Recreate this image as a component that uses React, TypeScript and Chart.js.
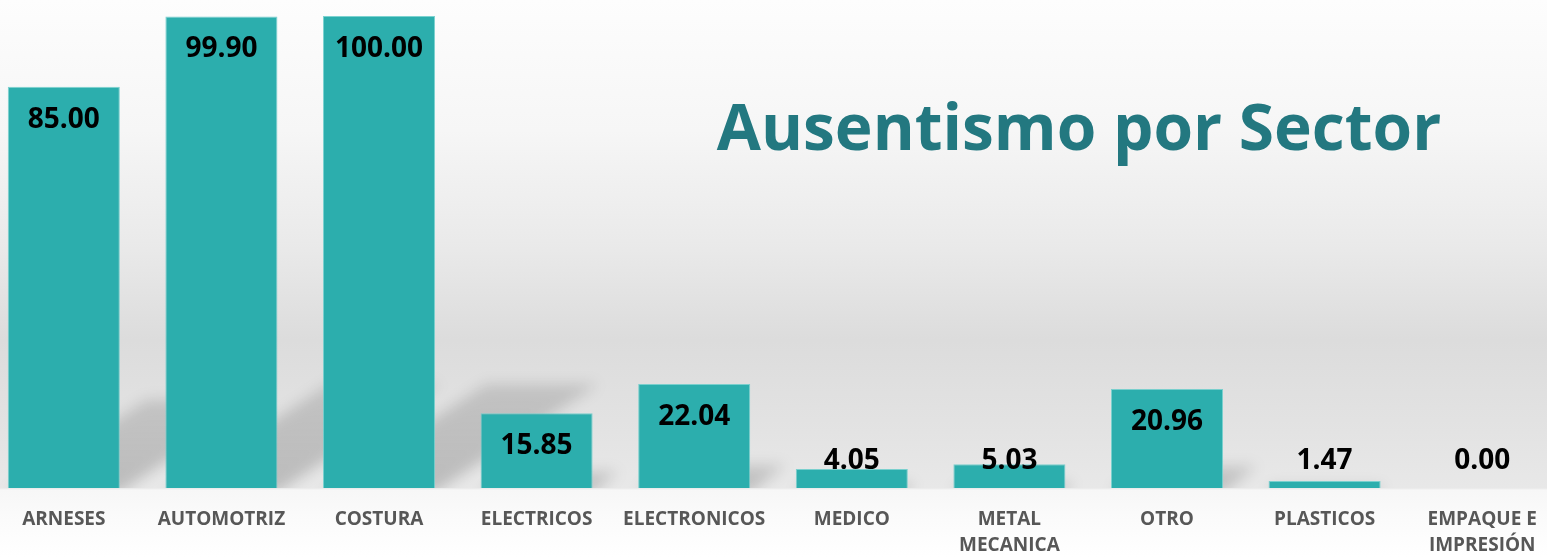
import React, { useEffect, useRef } from "react";
import { Chart, registerables } from "chart.js";

Chart.register(...registerables);

// ---- data ----
const categories: string[][] = [
  ["ARNESES"],
  ["AUTOMOTRIZ"],
  ["COSTURA"],
  ["ELECTRICOS"],
  ["ELECTRONICOS"],
  ["MEDICO"],
  ["METAL", "MECANICA"],
  ["OTRO"],
  ["PLASTICOS"],
  ["EMPAQUE E", "IMPRESIÓN"],
];
const values: number[] = [85.0, 99.9, 100.0, 15.85, 22.04, 4.05, 5.03, 20.96, 1.47, 0.0];
const titleText = "Ausentismo por Sector";
const yMin = 0;
const yMax = 100;

const BAR_COLOR = "#2CAEAD";
const TITLE_COLOR = "#237880";
const TICK_COLOR = "#575757";
const FONT = "'Open Sans', 'Noto Sans', sans-serif";

const CANVAS_W = 1576;
const CANVAS_H = 557;
const CANVAS_LEFT = -15;

const shadowPlugin = {
  id: "perspShadow",
  beforeDatasetsDraw(chart: any) {
    const ctx = chart.ctx;
    const area = chart.chartArea;
    const meta = chart.getDatasetMeta(0);
    ctx.save();
    ctx.beginPath();
    ctx.rect(0, 0, chart.width, area.bottom);
    ctx.clip();
    ctx.filter = "blur(7px)";
    meta.data.forEach((bar: any) => {
      const p = bar.getProps(["x", "y", "base", "width"], true);
      const h = p.base - p.y;
      if (h <= 0.5) return;
      const dy = h * 0.22;
      const dx = dy * 1.57;
      const x0 = p.x - p.width / 2;
      const x1 = p.x + p.width / 2;
      const g = ctx.createLinearGradient(0, p.base, 0, p.base - dy);
      g.addColorStop(0, "rgba(0,0,0,0.19)");
      g.addColorStop(1, "rgba(0,0,0,0.13)");
      ctx.fillStyle = g;
      ctx.beginPath();
      ctx.moveTo(x0, p.base + 4);
      ctx.lineTo(x1, p.base + 4);
      ctx.lineTo(x1 + dx, p.base - dy);
      ctx.lineTo(x0 + dx, p.base - dy);
      ctx.closePath();
      ctx.fill();
    });
    ctx.restore();
  },
};

const labelPlugin = {
  id: "valueLabels",
  afterDatasetsDraw(chart: any) {
    const ctx = chart.ctx;
    const meta = chart.getDatasetMeta(0);
    ctx.save();
    ctx.font = `bold 28px ${FONT}`;
    ctx.fillStyle = "#000000";
    ctx.textAlign = "center";
    ctx.textBaseline = "middle";
    meta.data.forEach((bar: any, i: number) => {
      const p = bar.getProps(["x", "y"], true);
      const y = Math.min(p.y + 33, 461);
      ctx.fillText(values[i].toFixed(2), p.x, y);
    });
    ctx.restore();
  },
};

const titlePlugin = {
  id: "sideTitle",
  afterDraw(chart: any) {
    const ctx = chart.ctx;
    ctx.save();
    ctx.font = `bold 64px ${FONT}`;
    ctx.fillStyle = TITLE_COLOR;
    ctx.textAlign = "center";
    ctx.textBaseline = "alphabetic";
    ctx.fillText(titleText, 1079 - CANVAS_LEFT, 150);
    ctx.restore();
  },
};

export default function App() {
  const ref = useRef<HTMLCanvasElement | null>(null);

  useEffect(() => {
    if (!ref.current) return;
    const chart = new Chart(ref.current, {
      type: "bar",
      data: {
        labels: categories,
        datasets: [
          {
            data: values,
            backgroundColor: BAR_COLOR,
            borderColor: "rgba(110,205,203,0.9)",
            borderWidth: 1,
            barPercentage: 0.711,
            categoryPercentage: 1,
          },
        ],
      },
      options: {
        animation: false,
        responsive: false,
        maintainAspectRatio: false,
        layout: { padding: { top: 16, left: 0, right: 0, bottom: 0 } },
        plugins: {
          legend: { display: false },
          tooltip: { enabled: false },
          title: { display: false },
        },
        scales: {
          x: {
            offset: true,
            grid: { display: false, drawTicks: false },
            border: { display: false },
            ticks: {
              autoSkip: false,
              maxRotation: 0,
              minRotation: 0,
              padding: 18,
              color: TICK_COLOR,
              font: { family: FONT, size: 19, weight: "bold", lineHeight: 1.4 },
            },
            afterFit(scale: any) {
              scale.height = 69;
            },
          },
          y: {
            display: false,
            min: yMin,
            max: yMax,
          },
        },
      },
      plugins: [shadowPlugin, labelPlugin, titlePlugin],
    } as any);
    return () => chart.destroy();
  }, []);

  return (
    <div
      style={{
        position: "fixed",
        left: 0,
        top: 0,
        width: 1547,
        height: 557,
        overflow: "hidden",
        background:
          "linear-gradient(to bottom, #FDFDFD 0px, #F6F6F6 130px, #E9E9E9 250px, #DCDCDC 340px, #E2E2E2 420px, #E8E8E8 488px, #F7F7F7 490px, #FBFBFB 520px, #FFFFFF 557px)",
      }}
    >
      <canvas
        ref={ref}
        width={CANVAS_W}
        height={CANVAS_H}
        style={{ position: "absolute", left: CANVAS_LEFT, top: 0, width: CANVAS_W, height: CANVAS_H }}
      />
    </div>
  );
}
